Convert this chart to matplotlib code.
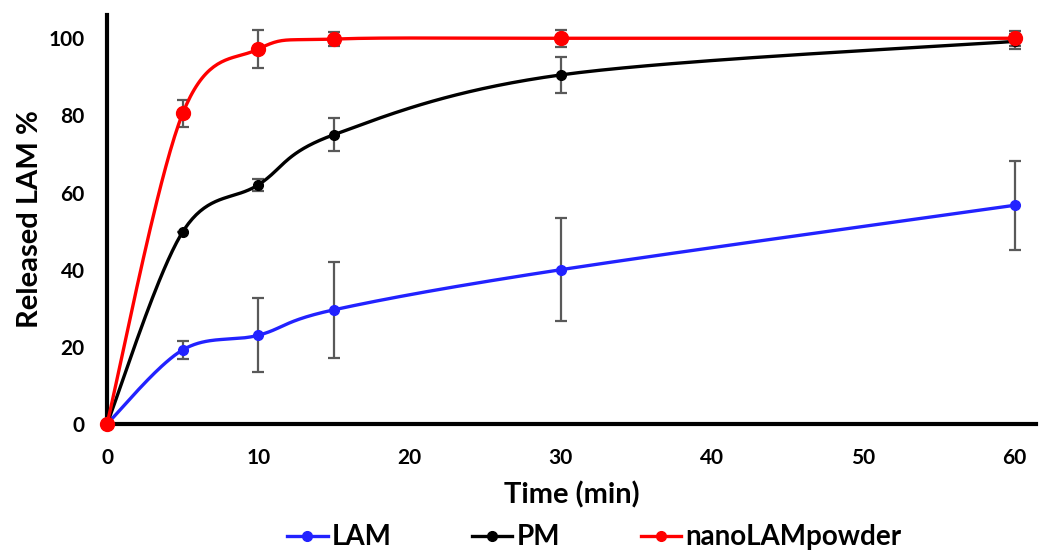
import numpy as np
import matplotlib
matplotlib.use("Agg")
from matplotlib import pyplot as plt
from matplotlib.lines import Line2D

plt.rcParams['font.family'] = ['Lato', 'DejaVu Sans']
plt.rcParams['font.weight'] = 'bold'

# release data (time in min, % released, sd)
time_min = [0, 5, 10, 15, 30, 60]

lam = [0, 19.2, 23.0, 29.6, 40.0, 56.7]
lam_sd = [0, 2.3, 9.6, 12.5, 13.4, 11.5]

pm = [0, 49.8, 62.0, 75.0, 90.5, 99.2]
pm_sd = [0, 0.0, 1.5, 4.3, 4.7, 2.0]

nano = [0, 80.5, 97.2, 99.8, 100.0, 100.0]
nano_sd = [0, 3.5, 5.0, 1.8, 2.2, 2.0]

series_names = ['LAM', 'PM', 'nanoLAMpowder']
colors = ['#2222ff', '#000000', '#ff0000']
marker_sizes = [7, 7, 10]


def smooth_curve(x, y, n=40):
    # catmull-rom style smoothing through every point (like a smoothed line in a spreadsheet)
    x = np.asarray(x, float)
    y = np.asarray(y, float)
    px = np.concatenate([[x[0]], x, [x[-1]]])
    py = np.concatenate([[y[0]], y, [y[-1]]])
    xs, ys = [], []
    for i in range(1, len(px) - 2):
        p0 = np.array([px[i], py[i]])
        p3 = np.array([px[i + 1], py[i + 1]])
        c1 = p0 + (np.array([px[i + 1], py[i + 1]]) - np.array([px[i - 1], py[i - 1]])) / 6.0
        c2 = p3 - (np.array([px[i + 2], py[i + 2]]) - np.array([px[i], py[i]])) / 6.0
        t = np.linspace(0, 1, n)[:, None]
        pts = ((1 - t) ** 3) * p0 + 3 * ((1 - t) ** 2) * t * c1 + 3 * (1 - t) * t ** 2 * c2 + t ** 3 * p3
        xs.extend(pts[:, 0])
        ys.extend(pts[:, 1])
    return np.array(xs), np.array(ys)


fig = plt.figure(figsize=(10.39, 5.54), dpi=100)
ax = fig.add_axes([0.103, 0.2347, 0.894, 0.738])

data = [(lam, lam_sd), (pm, pm_sd), (nano, nano_sd)]
for (vals, sd), col, ms in zip(data, colors, marker_sizes):
    ax.errorbar(time_min, vals, yerr=sd, fmt='none', ecolor='#595959',
                elinewidth=1.6, capsize=4.5, capthick=1.6, zorder=2)
    sx, sy = smooth_curve(time_min, vals)
    ax.plot(sx, sy, color=col, lw=2.4, zorder=3, solid_capstyle='round')
    ax.plot(time_min, vals, 'o', color=col, ms=ms, zorder=4, clip_on=False)

ax.set_xlim(0, 61.4)
ax.set_ylim(0, 106)
ax.set_xticks([0, 10, 20, 30, 40, 50, 60])
ax.set_yticks([0, 20, 40, 60, 80, 100])
ax.tick_params(length=0, labelsize=15)
ax.tick_params(axis='x', pad=17)
ax.tick_params(axis='y', pad=16)
for lbl in ax.get_xticklabels() + ax.get_yticklabels():
    lbl.set_fontweight('bold')

for s in ['top', 'right']:
    ax.spines[s].set_visible(False)
for s in ['left', 'bottom']:
    ax.spines[s].set_linewidth(3)
    ax.spines[s].set_color('black')

ax.set_xlabel('Time (min)', fontsize=21, fontweight='bold', labelpad=10)
ax.set_ylabel('Released LAM %', fontsize=21, fontweight='bold', labelpad=4)

handles = [Line2D([0], [0], color=c, lw=2.4, marker='o', ms=7) for c in colors]
fig.legend(handles, series_names, loc='center', bbox_to_anchor=(0.572, 0.03),
           ncol=3, frameon=False, handlelength=1.45, handletextpad=0.15,
           columnspacing=2.9, prop={'weight': 'bold', 'size': 20})

fig.savefig('out.png', dpi=100)
